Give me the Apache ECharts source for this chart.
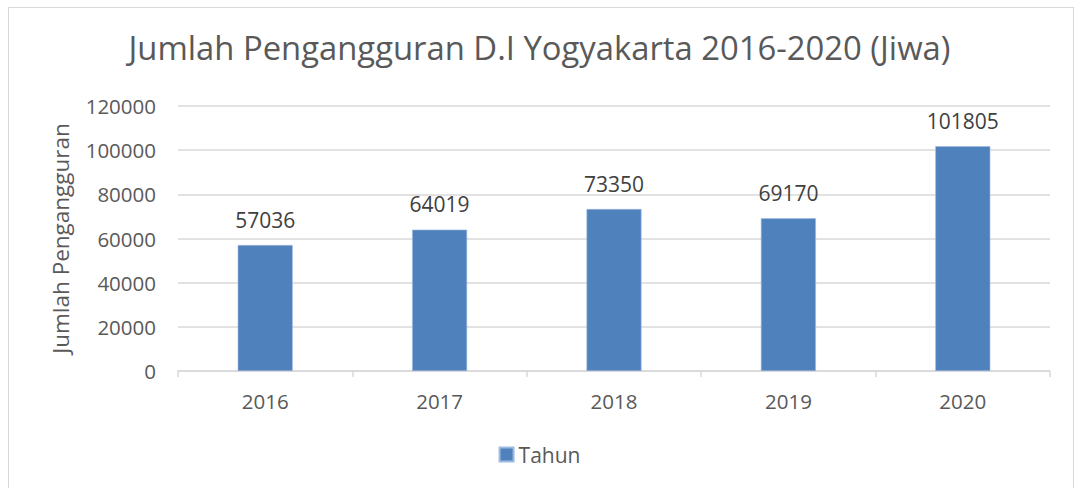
<!DOCTYPE html>
<html>
<head>
<meta charset="utf-8">
<script src="https://cdn.jsdelivr.net/npm/echarts@6/dist/echarts.min.js"></script>
<style>
  html, body { margin: 0; padding: 0; background: #fff; }
  #app { width: 1079px; height: 488px; }
  #frame { position: absolute; left: 8px; top: 7px; width: 1066px; height: 490px; border: 1px solid #d9d9d9; box-sizing: border-box; pointer-events: none; }
</style>
</head>
<body>
<div id="app"></div>
<div id="frame"></div>
<script>
// data
const years = ['2016', '2017', '2018', '2019', '2020']
const jumlah = [57036, 64019, 73350, 69170, 101805]
const seriesName = 'Tahun'

const font = 'Open Sans'
const chart = echarts.init(document.getElementById('app'), null, { renderer: 'svg' })

chart.setOption({
  animation: false,
  title: {
    text: 'Jumlah Pengangguran D.I Yogyakarta 2016-2020 (Jiwa)',
    left: 'center',
    top: 26,
    textStyle: { fontFamily: font, fontSize: 32.8, fontWeight: 'normal', color: '#595959' }
  },
  legend: {
    bottom: 18,
    left: 'center',
    itemWidth: 14,
    itemHeight: 14,
    itemGap: 4,
    icon: 'rect',
    textStyle: { fontFamily: font, fontSize: 21, color: '#595959' },
    data: [seriesName]
  },
  grid: { left: 178, right: 29, top: 106, bottom: 117, containLabel: false },
  xAxis: {
    type: 'category',
    data: years,
    axisLine: { lineStyle: { color: '#d9d9d9', width: 1.5 } },
    axisTick: { show: true, length: 6, lineStyle: { color: '#d9d9d9', width: 1.5 } },
    axisLabel: { fontFamily: font, fontSize: 20.5, color: '#595959', margin: 19 }
  },
  yAxis: {
    type: 'value',
    min: 0,
    max: 120000,
    interval: 20000,
    name: 'Jumlah Pengangguran',
    nameLocation: 'middle',
    nameGap: 106,
    nameTextStyle: { fontFamily: font, fontSize: 22.5, color: '#595959' },
    axisLine: { show: false },
    axisTick: { show: false },
    splitLine: { lineStyle: { color: '#d9d9d9', width: 1.5 } },
    axisLabel: { fontFamily: font, fontSize: 20.5, color: '#595959', margin: 22, formatter: v => String(v) }
  },
  series: [{
    name: seriesName,
    type: 'bar',
    data: jumlah,
    barWidth: 55,
    itemStyle: { color: '#4f81bd', borderColor: '#9dbbe0', borderWidth: 0.6 },
    label: {
      show: true,
      position: 'top',
      distance: 15,
      fontFamily: font,
      fontSize: 21,
      color: '#404040'
    }
  }]
})
</script>
</body>
</html>
